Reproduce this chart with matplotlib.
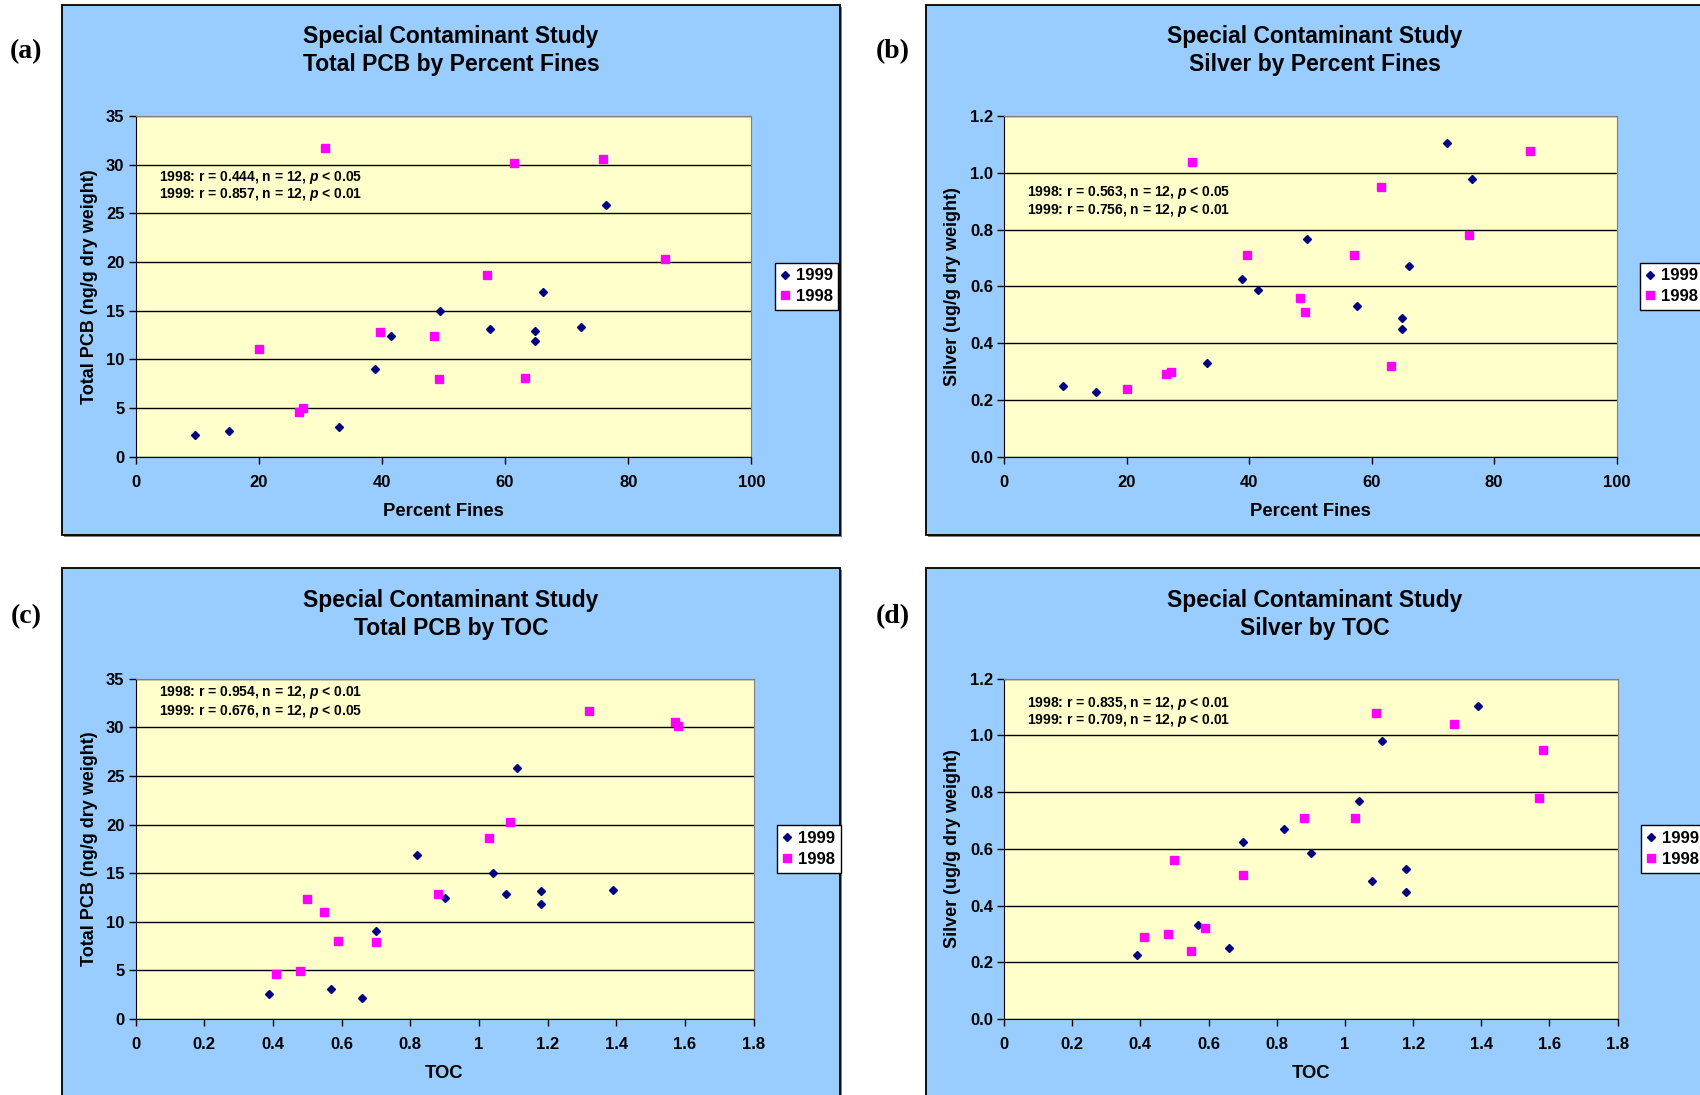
"""
Special Contaminant Study - PCB et argent en fonction des fines et du TOC.
Quatre nuages de points (1998 vs 1999) dans le style d'un classeur Excel.
"""

import matplotlib.pyplot as plt
from matplotlib.patches import Rectangle


# ----------------------------------------------------------------------------
# Données
# ----------------------------------------------------------------------------
YEARS = ["1999", "1998"]

# 1999
toc_1999 = [0.39, 0.57, 0.66, 0.70, 0.82, 0.90, 1.04, 1.08, 1.11, 1.18, 1.18, 1.39]
fines_1999 = [15.1, 33.1, 9.7, 38.9, 66.1, 41.5, 49.4, 64.9, 76.4, 57.6, 64.9, 72.3]
pcb_1999 = [2.6, 3.08, 2.19, 9.01, 16.87, 12.4, 15.0, 12.87, 25.85, 13.14, 11.84, 13.28]
silver_1999 = [0.226, 0.331, 0.250, 0.625, 0.670, 0.586, 0.768, 0.487, 0.979, 0.529, 0.448, 1.104]

# 1998
toc_1998 = [0.41, 0.48, 0.50, 0.55, 0.59, 0.70, 0.88, 1.03, 1.09, 1.32, 1.57, 1.58]
fines_1998 = [26.5, 27.2, 48.4, 20.0, 63.2, 49.2, 39.7, 57.1, 85.9, 30.7, 75.9, 61.5]
pcb_1998 = [4.62, 4.98, 12.35, 11.0, 8.03, 7.97, 12.83, 18.65, 20.29, 31.67, 30.59, 30.16]
silver_1998 = [0.289, 0.299, 0.560, 0.239, 0.320, 0.509, 0.709, 0.709, 1.078, 1.039, 0.779, 0.949]

TITLE_TOP = "Special Contaminant Study"
SUBTITLES = ["Total PCB by Percent Fines", "Silver by Percent Fines",
             "Total PCB by TOC", "Silver by TOC"]
PANEL_TAGS = ["(a)", "(b)", "(c)", "(d)"]
XLABELS = ["Percent Fines", "Percent Fines", "TOC", "TOC"]
YLABELS = ["Total PCB (ng/g dry weight)", "Silver (ug/g dry weight)",
           "Total PCB (ng/g dry weight)", "Silver (ug/g dry weight)"]
STATS = [
    ["1998: r = 0.444, n = 12, $p$ < 0.05", "1999: r = 0.857, n = 12, $p$ < 0.01"],
    ["1998: r = 0.563, n = 12, $p$ < 0.05", "1999: r = 0.756, n = 12, $p$ < 0.01"],
    ["1998: r = 0.954, n = 12, $p$ < 0.01", "1999: r = 0.676, n = 12, $p$ < 0.05"],
    ["1998: r = 0.835, n = 12, $p$ < 0.01", "1999: r = 0.709, n = 12, $p$ < 0.01"],
]

FINES_TICKS = [0, 20, 40, 60, 80, 100]
TOC_TICKS = [0, 0.2, 0.4, 0.6, 0.8, 1, 1.2, 1.4, 1.6, 1.8]
TOC_TICKLABELS = ["0", "0.2", "0.4", "0.6", "0.8", "1", "1.2", "1.4", "1.6", "1.8"]
PCB_TICKS = [0, 5, 10, 15, 20, 25, 30, 35]
SILVER_TICKS = [0.0, 0.2, 0.4, 0.6, 0.8, 1.0, 1.2]
SILVER_TICKLABELS = ["0.0", "0.2", "0.4", "0.6", "0.8", "1.0", "1.2"]


# ----------------------------------------------------------------------------
# Style
# ----------------------------------------------------------------------------
W, H = 1700, 1095
BG_BLUE = "#99CCFF"
PLOT_YELLOW = "#FFFFCC"
NAVY = "#000080"
MAGENTA = "#FF00FF"

plt.rcParams["font.family"] = ["Liberation Sans", "DejaVu Sans"]
plt.rcParams["font.weight"] = "bold"
plt.rcParams["mathtext.fontset"] = "custom"
plt.rcParams["mathtext.it"] = "Liberation Sans:italic:bold"
plt.rcParams["mathtext.rm"] = "Liberation Sans:bold"


def fig_box(x0, y0, x1, y1):
    """Pixels (origine en haut à gauche) -> fractions de figure."""
    return [x0 / W, 1 - y1 / H, (x1 - x0) / W, (y1 - y0) / H]


# Positions en pixels : cadre bleu, zone de tracé, étiquette (a)...
PANELS = [
    dict(frame=(62, 5, 840, 535), axes=(135.5, 116, 751.4, 456.5), tag=(26, 52),
         title_x=451, title_y=37, stats_y=(0.82, 0.768), ylab_x=-0.061, xlab_y=-0.137),
    dict(frame=(926, 5, 1720, 535), axes=(1004, 116, 1616.5, 456.5), tag=(893, 52),
         title_x=1315, title_y=37, stats_y=(0.774, 0.723), ylab_x=-0.070, xlab_y=-0.137),
    dict(frame=(62, 568, 840, 1110), axes=(135.5, 678.7, 753.5, 1019), tag=(26, 617),
         title_x=451, title_y=600, stats_y=(0.958, 0.904), ylab_x=-0.061, xlab_y=-0.134),
    dict(frame=(926, 568, 1720, 1110), axes=(1004, 678.7, 1617.6, 1019), tag=(893, 617),
         title_x=1315, title_y=600, stats_y=(0.927, 0.876), ylab_x=-0.070, xlab_y=-0.134),
]


def draw_panel(fig, i, x99, y99, x98, y98, xticks, xticklabels, yticks, yticklabels):
    p = PANELS[i]

    # Cadre bleu avec petite ombre grise
    x0, y0, x1, y1 = p["frame"]
    l, b, w, h = fig_box(x0 + 2, y0 + 2, x1 + 2, y1 + 2)
    fig.add_artist(Rectangle((l, b), w, h, transform=fig.transFigure,
                             facecolor="#808080", edgecolor="none", zorder=-11))
    l, b, w, h = fig_box(x0, y0, x1, y1)
    fig.add_artist(Rectangle((l, b), w, h, transform=fig.transFigure,
                             facecolor=BG_BLUE, edgecolor="black", lw=1.3, zorder=-10))

    ax = fig.add_axes(fig_box(*p["axes"]))
    ax.set_facecolor(PLOT_YELLOW)

    ax.plot(x99, y99, "D", color=NAVY, ms=4.2, ls="none", label=YEARS[0], zorder=3)
    ax.plot(x98, y98, "s", color=MAGENTA, ms=5.8, ls="none", label=YEARS[1], zorder=3)

    ax.set_xlim(xticks[0], xticks[-1])
    ax.set_ylim(yticks[0], yticks[-1])
    ax.set_xticks(xticks, xticklabels)
    ax.set_yticks(yticks, yticklabels)
    ax.tick_params(axis="x", length=5, width=1, pad=8, labelsize=12)
    ax.tick_params(axis="y", length=5, width=1, pad=3, labelsize=12)
    for lab in ax.get_xticklabels() + ax.get_yticklabels():
        lab.set_fontweight("bold")

    ax.yaxis.grid(True, color="black", lw=1)
    ax.set_axisbelow(True)
    for side in ["top", "right"]:
        ax.spines[side].set_color("#808080")
    for side in ["left", "bottom"]:
        ax.spines[side].set_color("black")

    ax.set_xlabel(XLABELS[i], fontsize=13.3, fontweight="bold")
    ax.set_ylabel(YLABELS[i], fontsize=13, fontweight="bold")
    ax.xaxis.set_label_coords(0.5, p["xlab_y"])
    ax.yaxis.set_label_coords(p["ylab_x"], 0.5)

    # Statistiques de corrélation
    for txt, ty in zip(STATS[i], p["stats_y"]):
        ax.text(0.038, ty, txt, transform=ax.transAxes, fontsize=10,
                fontweight="bold", va="center", ha="left")

    # Titre sur deux lignes
    tx = p["title_x"] / W
    fig.text(tx, 1 - p["title_y"] / H, TITLE_TOP, ha="center", va="center",
             fontsize=16.5, fontweight="bold")
    fig.text(tx, 1 - (p["title_y"] + 28) / H, SUBTITLES[i], ha="center", va="center",
             fontsize=16.5, fontweight="bold")

    # Étiquette du sous-graphique
    fig.text(p["tag"][0] / W, 1 - p["tag"][1] / H, PANEL_TAGS[i], ha="center",
             va="center", fontsize=20, fontweight="bold", family="Liberation Serif")

    leg = ax.legend(loc="center left", bbox_to_anchor=(1.038, 0.5), frameon=True,
                    fancybox=False, edgecolor="black", framealpha=1,
                    handlelength=0.5, handletextpad=0.4, borderpad=0.35,
                    labelspacing=0.35, borderaxespad=0,
                    prop={"weight": "bold", "size": 12})
    leg.get_frame().set_linewidth(1.0)
    return ax


def main():
    fig = plt.figure(figsize=(W / 100, H / 100), dpi=100)
    fig.patch.set_facecolor("white")

    draw_panel(fig, 0, fines_1999, pcb_1999, fines_1998, pcb_1998,
               FINES_TICKS, FINES_TICKS, PCB_TICKS, PCB_TICKS)
    draw_panel(fig, 1, fines_1999, silver_1999, fines_1998, silver_1998,
               FINES_TICKS, FINES_TICKS, SILVER_TICKS, SILVER_TICKLABELS)
    draw_panel(fig, 2, toc_1999, pcb_1999, toc_1998, pcb_1998,
               TOC_TICKS, TOC_TICKLABELS, PCB_TICKS, PCB_TICKS)
    draw_panel(fig, 3, toc_1999, silver_1999, toc_1998, silver_1998,
               TOC_TICKS, TOC_TICKLABELS, SILVER_TICKS, SILVER_TICKLABELS)

    fig.savefig("out.png", dpi=100)
    plt.close(fig)


if __name__ == "__main__":
    main()
